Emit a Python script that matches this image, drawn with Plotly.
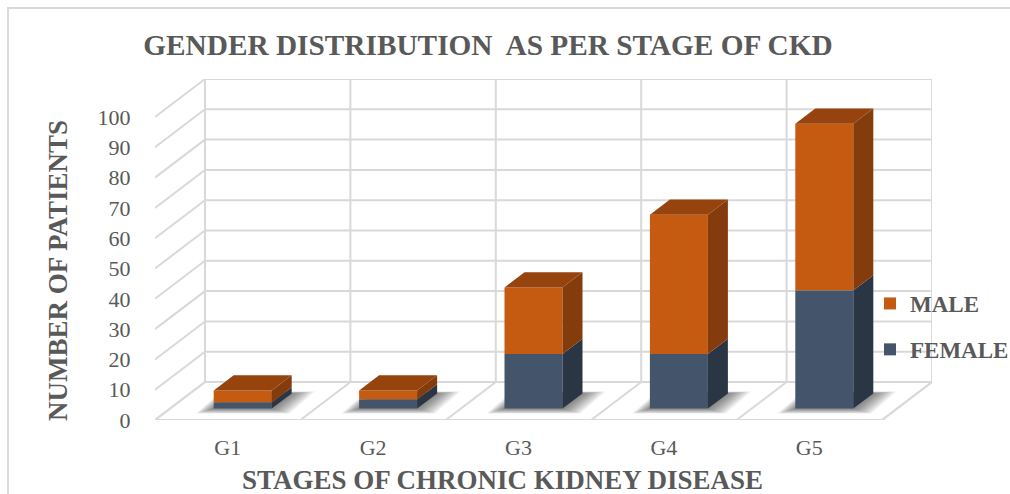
import plotly.graph_objects as go

categories = ["G1", "G2", "G3", "G4", "G5"]
female = [2, 3, 18, 18, 39]
male = [4, 3, 22, 46, 55]
y_ticks = [0, 10, 20, 30, 40, 50, 60, 70, 80, 90, 100]

GRID = "#d9d9d9"
TEXT = "#595959"
FONT = "Liberation Serif"
ORANGE, ORANGE_TOP, ORANGE_SIDE = "#c55a11", "#96430d", "#843c0c"
BLUE, BLUE_SIDE = "#44546a", "#2b3645"

# Oblique projection of the chart's depth, in axis units
DX, DY = 50 / 145.4, 38 / 3.03
BAR_W = 58 / 145.4
D0, D1 = 0.30, 0.70
XMIN, XMAX = -0.5, 4.5
YMAX = 100 + DY


def proj(x, y, d):
    return x + DX * d, y + DY * d


def polygon(pts, color, axes=("x", "y")):
    return go.Scatter(x=[p[0] for p in pts], y=[p[1] for p in pts], fill="toself", mode="none",
                      fillcolor=color, hoverinfo="skip", showlegend=False, xaxis=axes[0], yaxis=axes[1])


fig = go.Figure()

# walls and floor
gx, gy = [], []
for v in y_ticks:
    gx += [XMIN, XMIN + DX, XMAX + DX, None]
    gy += [v, v + DY, v + DY, None]
for i in range(6):
    b = XMIN + i
    gx += [b, b + DX, b + DX, None]
    gy += [0, DY, YMAX, None]
gx += [XMIN, XMAX, XMAX + DX, None]
gy += [0, 0, DY, None]
fig.add_trace(go.Scatter(x=gx, y=gy, mode="lines", line=dict(color=GRID, width=2),
                         hoverinfo="skip", showlegend=False, cliponaxis=False))

# soft floor shadows: widening translucent copies of each bar's footprint
SH_X, SH_Y = 18 / 145.4, 5 / 3.03
for k in range(14):
    grow = 1 - k / 14
    for i in range(len(categories)):
        ex, ey = grow * SH_X, grow * SH_Y
        x0, x1 = i - BAR_W / 2 - ex, i + BAR_W / 2 + ex
        a = proj(x0, 0, D0)
        b = proj(x1, 0, D0)
        c = proj(x1, 0, D1)
        e = proj(x0, 0, D1)
        pts = [(a[0], a[1] - ey), (b[0], b[1] - ey), (c[0] + ex * 0.3, c[1] + ey * 0.4), (e[0] + ex * 0.3, e[1] + ey * 0.4)]
        fig.add_trace(polygon(pts, "rgba(30,30,30,0.05)"))

OVER = ("x2", "y2")
# bar sides and tops
for i in range(len(categories)):
    x1 = i + BAR_W / 2
    x0 = i - BAR_W / 2
    f, t = female[i], female[i] + male[i]
    for lo, hi, col in [(0, f, BLUE_SIDE), (f, t, ORANGE_SIDE)]:
        fig.add_trace(polygon([proj(x1, lo, D0), proj(x1, lo, D1), proj(x1, hi, D1), proj(x1, hi, D0)], col, OVER))
    fig.add_trace(polygon([proj(x0, t, D0), proj(x1, t, D0), proj(x1, t, D1), proj(x0, t, D1)], ORANGE_TOP, OVER))

# bar fronts, on the plane inside the depth
shift_x = [i + DX * D0 for i in range(len(categories))]
base_f = [DY * D0] * len(categories)
base_m = [DY * D0 + v for v in female]
fig.add_trace(go.Bar(name="MALE", x=shift_x, y=male, base=base_m, width=BAR_W, marker=dict(color=ORANGE, line_width=0),
                     legendgroup="m", xaxis="x2", yaxis="y2"))
fig.add_trace(go.Bar(name="FEMALE", x=shift_x, y=female, base=base_f, width=BAR_W, marker=dict(color=BLUE, line_width=0),
                     legendgroup="f", xaxis="x2", yaxis="y2"))

fig.update_layout(
    width=1010, height=494,
    margin=dict(l=155, r=78, t=79, b=74, autoexpand=False),
    paper_bgcolor="white", plot_bgcolor="rgba(0,0,0,0)",
    barmode="overlay",
    font=dict(family=FONT, color=TEXT),
    title=dict(text="<b>GENDER DISTRIBUTION  AS PER STAGE OF CKD</b>", x=488 / 1010, xanchor="center",
               y=1 - 45 / 494, yanchor="middle", font=dict(size=29.3, color=TEXT, family=FONT)),
    legend=dict(x=(870 - 155) / 777, xanchor="left", y=(420 - 282) / 341, yanchor="top", bgcolor="rgba(0,0,0,0)",
                font=dict(size=23, color=TEXT, family=FONT, weight="bold"), tracegroupgap=13,
                itemclick=False, itemdoubleclick=False),
    xaxis=dict(range=[XMIN, XMAX + DX], tickmode="array", tickvals=list(range(5)), ticktext=categories,
               showgrid=False, zeroline=False, showline=False, ticks="outside", ticklen=8, tickcolor="rgba(0,0,0,0)",
               tickfont=dict(size=22, color=TEXT, family=FONT)),
    yaxis=dict(range=[0, YMAX], tickmode="array", tickvals=y_ticks, showgrid=False, zeroline=False, showline=False,
               ticks="outside", ticklen=19, tickcolor="rgba(0,0,0,0)",
               tickfont=dict(size=22, color=TEXT, family=FONT)),
    xaxis2=dict(range=[XMIN, XMAX + DX], overlaying="x", visible=False),
    yaxis2=dict(range=[0, YMAX], overlaying="y", visible=False),
    annotations=[
        dict(text="<b>STAGES OF CHRONIC KIDNEY DISEASE</b>", xref="paper", yref="paper",
             x=(502 - 155) / 777, y=(420 - 480) / 341, showarrow=False, xanchor="center", yanchor="middle",
             font=dict(size=27, color=TEXT, family=FONT)),
        dict(text="<b>NUMBER OF PATIENTS</b>", xref="paper", yref="paper", textangle=-90,
             x=(58 - 155) / 777, y=(420 - 271) / 341, showarrow=False, xanchor="center", yanchor="middle",
             font=dict(size=27, color=TEXT, family=FONT)),
    ],
    shapes=[dict(type="rect", xref="paper", yref="paper", x0=-147 / 777, x1=(1012 - 155) / 777,
                 y0=(420 - 510) / 341, y1=(420 - 8) / 341, line=dict(color=GRID, width=2), layer="below")],
)
fig.write_html("out.html", config={"displayModeBar": False}, post_script="document.body.style.margin='0';")
